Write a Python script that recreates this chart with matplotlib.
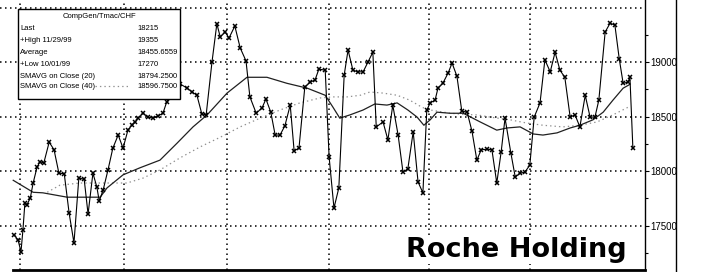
import matplotlib
matplotlib.use("Agg")
import matplotlib.pyplot as plt
from matplotlib.lines import Line2D
from matplotlib.patches import Rectangle

plt.rcParams['font.family'] = ['Liberation Sans', 'DejaVu Sans']
plt.rcParams['lines.scale_dashes'] = False

# ---- data (x = trading day, y = CHF) ----
price_t = [-1.2, -0.4, 0.2, 0.6, 1.0, 1.4, 2.1, 2.7, 3.5, 4.1, 4.9, 6.0, 7.0, 8.0, 9.1, 10.1,
           11.1, 12.1, 13.2, 14.0, 15.0, 15.8, 16.3, 17.1, 18.1, 19.1, 20.2, 21.2, 22.2, 23.0,
           23.7, 24.3, 25.3, 26.3, 27.4, 28.4, 29.4, 30.2, 31.5, 32.9, 34.4, 35.4, 36.4, 37.4,
           38.3, 39.5, 40.5, 41.2, 42.2, 43.0, 44.2, 45.3, 46.5, 47.3, 48.6, 49.8, 50.6, 51.6,
           52.5, 53.5, 54.5, 55.6, 56.4, 57.4, 58.6, 59.7, 60.7, 61.5, 62.8, 63.6, 64.6, 65.6,
           66.7, 67.5, 68.5, 69.5, 70.6, 71.6, 72.6, 73.3, 74.7, 75.7, 76.7, 77.8, 78.8, 79.8,
           80.9, 81.9, 82.9, 83.7, 84.4, 85.4, 86.0, 87.0, 88.1, 88.9, 89.9, 90.9, 92.0, 93.0,
           94.0, 94.9, 96.1, 97.1, 98.1, 99.0, 99.8, 101.0, 101.9, 102.9, 103.9, 104.9, 105.8,
           107.0, 108.0, 109.1, 110.1, 111.1, 112.1, 113.2, 114.2, 115.2, 116.3, 117.3, 118.3,
           119.1, 120.4, 121.4, 122.4, 123.3, 124.1, 125.1, 125.5, 126.1]
price = [17415, 17365, 17260, 17460, 17705, 17690, 17750, 17890, 18035, 18085, 18075, 18265,
         18195, 17980, 17975, 17615, 17340, 17935, 17925, 17605, 17980, 17855, 17725, 17825,
         18010, 18210, 18330, 18210, 18375, 18420, 18450, 18485, 18530, 18495, 18485, 18505,
         18530, 18635, 18725, 18800, 18760, 18725, 18695, 18525, 18515, 19000, 19350, 19230,
         19275, 19220, 19330, 19130, 19010, 18680, 18530, 18580, 18660, 18540, 18330, 18330,
         18415, 18605, 18185, 18210, 18770, 18815, 18835, 18935, 18925, 18130, 17660, 17845,
         18880, 19110, 18925, 18910, 18910, 19000, 19090, 18405, 18450, 18285, 18605, 18330,
         17990, 18020, 18360, 17900, 17800, 18560, 18625, 18650, 18760, 18805, 18900, 18990,
         18870, 18550, 18540, 18365, 18100, 18195, 18200, 18195, 17890, 18175, 18485, 18165,
         17945, 17980, 17990, 18055, 18495, 18625, 19020, 18910, 19090, 18925, 18860, 18495,
         18515, 18405, 18695, 18495, 18495, 18650, 19275, 19355, 19340, 19030, 18805, 18815,
         18860, 18215]

ma20_t = [-1.4, 2.7, 4.7, 9.7, 16.5, 17.9, 21.2, 24.7, 28.8, 32.3, 35.6, 38.5, 42.6, 46.7,
          50.8, 54.9, 59.1, 62.8, 64.4, 65.8, 67.9, 70.6, 73.0, 75.5, 77.6, 79.8, 81.7, 83.1,
          84.4, 85.8, 88.5, 91.2, 94.7, 98.1, 100.2, 102.9, 105.6, 107.6, 110.5, 113.2, 115.2,
          117.9, 120.0, 122.0, 124.1, 125.5]
ma20 = [17915, 17805, 17800, 17760, 17760, 17845, 17965, 18030, 18100, 18255, 18405, 18515,
        18715, 18860, 18860, 18805, 18760, 18695, 18585, 18485, 18515, 18560, 18615, 18605,
        18625, 18560, 18495, 18420, 18470, 18540, 18530, 18530, 18450, 18375, 18395, 18405,
        18340, 18330, 18350, 18395, 18420, 18470, 18540, 18650, 18760, 18795]

ma40_t = [5.6, 8.2, 12.3, 16.5, 22.0, 25.3, 28.8, 32.9, 37.0, 41.2, 45.3, 49.4, 53.5, 57.6,
          61.7, 64.4, 67.3, 70.0, 72.0, 74.7, 77.6, 80.2, 82.7, 84.4, 88.5, 91.2, 94.0, 96.7,
          100.8, 104.3, 107.6, 111.7, 115.2, 118.7, 122.0, 124.9, 125.5]
ma40 = [17805, 17870, 17890, 17890, 17890, 17935, 18010, 18120, 18220, 18310, 18405, 18485,
        18560, 18625, 18670, 18680, 18680, 18695, 18725, 18715, 18695, 18650, 18585, 18560,
        18530, 18520, 18515, 18495, 18470, 18440, 18420, 18405, 18420, 18450, 18515, 18580,
        18597]

month_grid = [0, 21.4, 42.6, 63.6, 84.2, 105.0]
price_grid = [17500, 18000, 18500, 19000, 19500]
y_ticks = [17500, 18000, 18500, 19000]
y_minor = [17250, 17750, 18250, 18750, 19250]

legend_title = "CompGen/Tmac/CHF"
legend_labels = ["Last", "+High 11/29/99", "Average", "+Low 10/01/99",
                 "SMAVG on Close (20)", "SMAVG on Close (40)"]
legend_values = ["18215", "19355", "18455.6559", "17270", "18794.2500", "18596.7500"]
title = "Roche Holding"

# ---- figure ----
W, H = 707, 272
fig = plt.figure(figsize=(W / 100, H / 100), dpi=100)
ax = fig.add_axes([0, 2 / H, 645 / W, 270 / H])
ax.set_xlim(-4.12, 128.6)
ax.set_ylim(17092, 19569)

grid_style = dict(color='black', lw=1.1, ls=(0, (1.1, 2.5)), zorder=1)
for g in price_grid:
    ax.axhline(g, **grid_style)
for g in month_grid:
    ax.axvline(g, **grid_style)

ax.plot(ma40_t, ma40, color='#909090', lw=0.9, ls=(0, (1.0, 2.2)), zorder=2)
ax.plot(ma20_t, ma20, color='#202020', lw=0.9, zorder=3)
ax.plot(price_t, price, color='black', lw=0.8, marker='x', ms=3.2, mew=1.1, zorder=4)

for s in ['top', 'left']:
    ax.spines[s].set_visible(False)
ax.spines['right'].set_linewidth(1.0)
ax.spines['bottom'].set_linewidth(2.0)
ax.spines['bottom'].set_bounds(-1.5, 128.6)

ax.set_xticks([])
ax.yaxis.tick_right()
ax.set_yticks(y_ticks)
ax.set_yticklabels([str(v) for v in y_ticks])
ax.set_yticks(y_minor, minor=True)
ax.tick_params(axis='y', which='major', direction='out', length=3, width=0.8,
               labelsize=7, pad=1)
ax.tick_params(axis='y', which='minor', direction='out', length=2, width=0.8)
ax.set_facecolor('white')

# right border of label strip
fig.add_artist(Line2D([676 / W, 676 / W], [0, 1], color='black', lw=1.0))

# legend box
def fx(px):
    return px / 645
def fy(py):
    return 1 - py / 270

box = Rectangle((fx(18), fy(99)), fx(180) - fx(18), fy(9) - fy(99), transform=ax.transAxes,
                facecolor='white', edgecolor='black', lw=1.0, zorder=10)
ax.add_patch(box)
ax.text(fx(99), fy(17), legend_title, transform=ax.transAxes, ha='center', va='center',
        fontsize=5.5, zorder=11)
rows = [29, 41, 52, 64, 76, 87]
for r, lab, val in zip(rows, legend_labels, legend_values):
    ax.text(fx(20), fy(r), lab, transform=ax.transAxes, ha='left', va='center',
            fontsize=5.5, zorder=11)
    ax.text(fx(137), fy(r), val, transform=ax.transAxes, ha='left', va='center',
            fontsize=5.5, zorder=11)
ax.add_line(Line2D([fx(95), fx(130)], [fy(86), fy(86)], transform=ax.transAxes,
                   color='#909090', lw=0.9, ls=(0, (1.0, 2.2)), zorder=11))

# title
ax.text(fx(627), fy(250), title, transform=ax.transAxes, ha='right', va='center',
        fontsize=19.5, fontweight='bold', family='DejaVu Sans', zorder=12,
        bbox=dict(facecolor='white', edgecolor='none', pad=1))

fig.savefig('out.png', dpi=100)
